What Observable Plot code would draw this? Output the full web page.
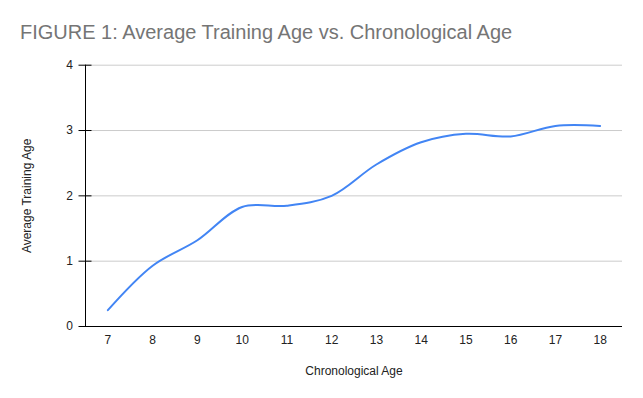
<!DOCTYPE html>
<html>
<head>
<meta charset="utf-8">
<script src="https://cdn.jsdelivr.net/npm/d3@7"></script>
<script src="https://cdn.jsdelivr.net/npm/@observablehq/plot@0.6"></script>
<style>
  html, body { margin: 0; padding: 0; background: #fff; }
  #wrap { width: 643px; height: 398px; overflow: hidden; }
  #title { box-sizing: border-box; height: 50px; padding: 22px 0 0 20px; font: 20px "Liberation Sans", Arial, sans-serif; line-height: 20px; color: #757575; white-space: nowrap; }
</style>
</head>
<body>
<div id="wrap">
  <div id="title">FIGURE 1: Average Training Age vs. Chronological Age</div>
  <div id="chart"></div>
</div>
<script>
const titleText = "FIGURE 1: Average Training Age vs. Chronological Age";
const xLabel = "Chronological Age";
const yLabel = "Average Training Age";
const ages = [7, 8, 9, 10, 11, 12, 13, 14, 15, 16, 17, 18];
const trainingAge = [0.25, 0.93, 1.32, 1.83, 1.85, 2.0, 2.48, 2.82, 2.95, 2.91, 3.07, 3.07];
const yTicks = [0, 1, 2, 3, 4];

const data = ages.map((a, i) => ({age: a, value: trainingAge[i]}));

const chart = Plot.plot({
  width: 643,
  height: 348,
  marginLeft: 85,
  marginRight: 21,
  marginTop: 14.7,
  marginBottom: 72,
  style: {fontFamily: "'Liberation Sans', Arial, sans-serif", fontSize: "12px", color: "#222", background: "#fff"},
  x: {type: "point", domain: ages, padding: 0.5, round: false, label: null},
  y: {domain: [0, 4], label: null},
  marks: [
    Plot.gridY(yTicks.slice(1), {stroke: "#cccccc", strokeOpacity: 1}),
    Plot.axisY(yTicks, {tickSize: 13, dx: 6.5, tickPadding: 6, tickFormat: d3.format("d"), label: null, stroke: "#000", fill: "#222"}),
    Plot.axisX(ages, {tickSize: 0, tickPadding: 9, label: null, fill: "#222"}),
    Plot.ruleY([0], {stroke: "#000"}),
    Plot.frame({anchor: "left", stroke: "#000"}),
    Plot.line(data, {x: "age", y: "value", stroke: "#4285f4", strokeWidth: 2, curve: "catmull-rom"}),
    Plot.text([yLabel], {text: d => d, frameAnchor: "left", rotate: -90, dx: -58, textAnchor: "middle", lineAnchor: "middle", fill: "#222"}),
    Plot.text([xLabel], {text: d => d, frameAnchor: "bottom", dy: 45, textAnchor: "middle", lineAnchor: "middle", fill: "#222"})
  ]
});
document.getElementById("chart").appendChild(chart);
</script>
</body>
</html>
